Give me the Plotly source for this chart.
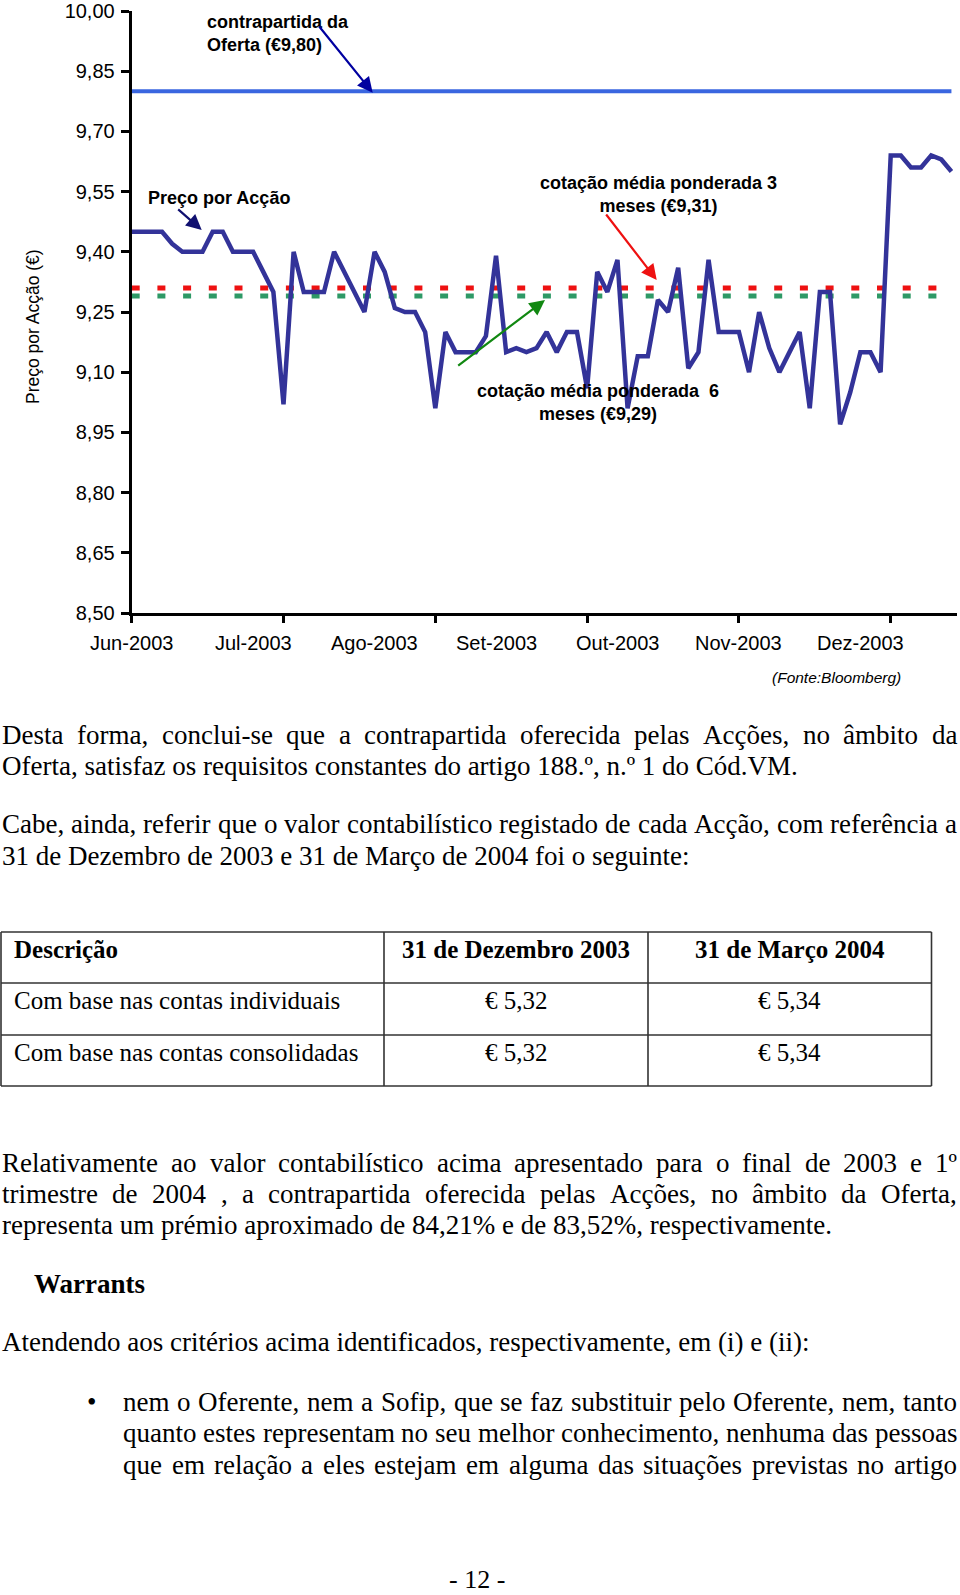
import plotly.graph_objects as go

W, H = 960, 1595

# ---------------- data ----------------
price = [9.45, 9.45, 9.45, 9.45, 9.42, 9.40, 9.40, 9.40, 9.45, 9.45,
         9.40, 9.40, 9.40, 9.35, 9.30, 9.02, 9.40, 9.30, 9.30, 9.30,
         9.40, 9.35, 9.30, 9.25, 9.40, 9.35, 9.26, 9.25, 9.25, 9.20,
         9.01, 9.20, 9.15, 9.15, 9.15, 9.19, 9.39, 9.15, 9.16, 9.15,
         9.16, 9.20, 9.15, 9.20, 9.20, 9.06, 9.35, 9.30, 9.38, 9.01,
         9.14, 9.14, 9.28, 9.25, 9.36, 9.11, 9.15, 9.38, 9.20, 9.20,
         9.20, 9.10, 9.25, 9.16, 9.10, 9.15, 9.20, 9.01, 9.30, 9.30,
         8.97, 9.05, 9.15, 9.15, 9.10, 9.64, 9.64, 9.61, 9.61, 9.64,
         9.63, 9.60]
offer_price = 9.80
avg_3m = 9.31
avg_6m = 9.29
month_labels = ["Jun-2003", "Jul-2003", "Ago-2003", "Set-2003",
                "Out-2003", "Nov-2003", "Dez-2003"]
label_step = 12
tick_step = 15

table_header = ["Descrição", "31 de Dezembro 2003", "31 de Março 2004"]
table_rows = [["Com base nas contas individuais", "€ 5,32", "€ 5,34"],
              ["Com base nas contas consolidadas", "€ 5,32", "€ 5,34"]]

# ---------------- helpers ----------------
def px(x):
    return x / W


def py(y):
    return 1 - y / H


SANS = "Liberation Sans, Arial, sans-serif"
SERIF = "Liberation Serif, Times New Roman, serif"

TW = dict(a=444, b=500, c=444, d=500, e=444, f=333, g=500, h=500, i=278, j=278,
          k=500, l=278, m=778, n=500, o=500, p=500, q=500, r=333, s=389, t=278,
          u=500, v=500, w=722, x=500, y=500, z=444,
          A=722, B=667, C=667, D=722, E=611, F=556, G=722, H=722, I=333, J=389,
          K=722, L=611, M=889, N=722, O=722, P=556, Q=722, R=667, S=556, T=611,
          U=722, V=722, W=944, X=722, Y=722, Z=611)
for ch in "0123456789":
    TW[ch] = 500
TW.update({" ": 250, ",": 250, ".": 250, "-": 333, "(": 333, ")": 333, ":": 278,
           "º": 310, "%": 833, "€": 500})
for acc, base in zip("áàâãéêèíóôõúçÇÉ", "aaaaeeeiooouçCE".replace("ç", "c")):
    TW[acc] = TW[base]


def tw(s, size):
    return sum(TW.get(c, 500) for c in s) * size / 1000.0


n = len(price)
xs = list(range(n))

fig = go.Figure()
fig.add_trace(go.Scatter(x=[0, n - 1], y=[offer_price, offer_price], mode="lines",
                         line=dict(color="#3A66E0", width=4), hoverinfo="skip"))
fig.add_trace(go.Scatter(x=[0, n - 1.8], y=[avg_3m, avg_3m], mode="lines",
                         line=dict(color="#EE1111", width=5, dash="8px,17.7px"), hoverinfo="skip"))
fig.add_trace(go.Scatter(x=[0, n - 1.8], y=[avg_6m, avg_6m], mode="lines",
                         line=dict(color="#2E9966", width=5, dash="8px,17.7px"), hoverinfo="skip"))
fig.add_trace(go.Scatter(x=xs, y=price, mode="lines",
                         line=dict(color="#333399", width=4.5), hoverinfo="skip"))

ann = []

# x labels
for k, lab in enumerate(month_labels):
    ann.append(dict(x=k * label_step, xref="x", y=py(643), yref="paper", text=lab,
                    showarrow=False, xanchor="center", yanchor="middle",
                    font=dict(family=SANS, size=20, color="black")))

# y title
ann.append(dict(x=px(33), y=py(327), xref="paper", yref="paper", text="Preço por Acção (€)",
                textangle=-90, showarrow=False, xanchor="center", yanchor="middle",
                font=dict(family=SANS, size=17.5, color="black")))

bold = dict(family=SANS, size=18, color="black")
ann.append(dict(x=px(205), y=py(33.5), xref="paper", yref="paper",
                text="<b>contrapartida da<br>Oferta (€9,80)</b>", align="left",
                xanchor="left", yanchor="middle", showarrow=False, font=bold))
ann.append(dict(x=px(145.7), y=py(198), xref="paper", yref="paper",
                text="<b>Preço por Acção</b>", xanchor="left", yanchor="middle",
                showarrow=False, font=bold))
ann.append(dict(x=px(658), y=py(194.7), xref="paper", yref="paper",
                text="<b>cotação média ponderada 3<br>meses (€9,31)</b>", align="center",
                xanchor="center", yanchor="middle", showarrow=False, font=bold))
ann.append(dict(x=px(598), y=py(403), xref="paper", yref="paper",
                text="<b>cotação média ponderada\u00a0\u00a06<br>meses (€9,29)</b>", align="center",
                xanchor="center", yanchor="middle", showarrow=False, font=bold))


def arrow(tail, head, color, width=2.2, size=1.4):
    ann.append(dict(x=px(head[0]), y=py(head[1]), xref="paper", yref="paper", text="",
                    showarrow=True, arrowhead=2, arrowsize=size, arrowwidth=width,
                    arrowcolor=color, ax=tail[0] - head[0], ay=tail[1] - head[1],
                    axref="pixel", ayref="pixel", standoff=0, startstandoff=0))


arrow((318, 25), (372.7, 92.7), "#0000A0")
arrow((176.7, 208), (201.7, 230), "#101070")
arrow((605, 213), (656.7, 280), "#EE1111")
arrow((456.7, 366.7), (545, 300), "#118811")

ann.append(dict(x=px(836), y=py(677), xref="paper", yref="paper",
                text="<i>(Fonte:Bloomberg)</i>", showarrow=False, xanchor="center",
                yanchor="middle", font=dict(family=SANS, size=15.5, color="black")))

# ---------------- body text ----------------
BODY = 27


def text_at(s, x, y, size=BODY, anchor="left", boldtxt=False, yanchor="middle"):
    ann.append(dict(x=px(x), y=py(y), xref="paper", yref="paper",
                    text=("<b>%s</b>" % s) if boldtxt else s, showarrow=False,
                    xanchor=anchor, yanchor=yanchor, borderpad=0, borderwidth=0,
                    font=dict(family=SERIF, size=size, color="black")))


def justified(line, y, left, right, size=BODY):
    words = line.split(" ")
    widths = [tw(w, size) for w in words]
    gap = (right - left - sum(widths)) / (len(words) - 1)
    x = left
    for w, wd in zip(words, widths):
        text_at(w, x, y, size)
        x += wd + gap


L, R = 2, 957
justified("Desta forma, conclui-se que a contrapartida oferecida pelas Acções, no âmbito da", 734.5, L, R)
text_at("Oferta, satisfaz os requisitos constantes do artigo 188.º, n.º 1 do Cód.VM.", L, 766)
justified("Cabe, ainda, referir que o valor contabilístico registado de cada Acção, com referência a", 824, L, R)
text_at("31 de Dezembro de 2003 e 31 de Março de 2004 foi o seguinte:", L, 855.5)

justified("Relativamente ao valor contabilístico acima apresentado para o final de 2003 e 1º", 1162.7, L, R)
justified("trimestre de 2004 , a contrapartida oferecida pelas Acções, no âmbito da Oferta,", 1194.2, L, R)
text_at("representa um prémio aproximado de 84,21% e de 83,52%, respectivamente.", L, 1224.7)
text_at("Warrants", 33.5, 1283.7, boldtxt=True)
text_at("Atendendo aos critérios acima identificados, respectivamente, em (i) e (ii):", L, 1341.7)
text_at("•", 91.5, 1401.7, anchor="center")
BL = 123
justified("nem o Oferente, nem a Sofip, que se faz substituir pelo Oferente, nem, tanto", 1401.7, BL, R)
justified("quanto estes representam no seu melhor conhecimento, nenhuma das pessoas", 1433.2, BL, R)
justified("que em relação a eles estejam em alguma das situações previstas no artigo", 1464.8, BL, R)
text_at("- 12 -", 477, 1594, size=26, anchor="center", yanchor="bottom")

# ---------------- table ----------------
col_edges = [1, 384, 648, 931.5]
row_edges = [932, 983, 1035, 1086]
shapes = []
for yv in row_edges:
    shapes.append(dict(type="line", xref="paper", yref="paper", x0=px(col_edges[0]), x1=px(col_edges[-1]),
                       y0=py(yv), y1=py(yv), line=dict(color="#333333", width=1.6)))
for xv in col_edges:
    shapes.append(dict(type="line", xref="paper", yref="paper", x0=px(xv), x1=px(xv),
                       y0=py(row_edges[0]), y1=py(row_edges[-1]), line=dict(color="#333333", width=1.6)))

TS = 25
all_rows = [table_header] + table_rows
for r, row in enumerate(all_rows):
    yc = row_edges[r] + 17.5
    for c, cell in enumerate(row):
        if c == 0:
            text_at(cell, 13.5, yc, size=TS, boldtxt=(r == 0))
        else:
            text_at(cell, (col_edges[c] + col_edges[c + 1]) / 2, yc, size=TS,
                    anchor="center", boldtxt=(r == 0))

fig.update_layout(
    width=W, height=H, autosize=False,
    margin=dict(l=0, r=0, t=0, b=0, pad=0),
    paper_bgcolor="white", plot_bgcolor="white",
    showlegend=False, separators=",.", hovermode=False,
    annotations=ann, shapes=shapes,
    xaxis=dict(domain=[131.7 / W, 957 / W], range=[0, 81.55], showgrid=False, zeroline=False,
               automargin=False,
               showline=True, linecolor="black", linewidth=3,
               tickmode="array", tickvals=[k * tick_step for k in range(6)],
               ticktext=[""] * 6, ticks="outside", ticklen=7, tickwidth=2.5, tickcolor="black"),
    yaxis=dict(domain=[1 - 613 / H, 1 - 11 / H], range=[8.5, 10.0], showgrid=False, zeroline=False,
               automargin=False,
               showline=True, linecolor="black", linewidth=3,
               tick0=8.5, dtick=0.15, tickformat=".2f", ticks="outside", ticklen=8,
               tickwidth=2.5, tickcolor="black", ticklabelstandoff=2,
               tickfont=dict(family=SANS, size=20, color="black")),
)

fig.write_html("out.html")
